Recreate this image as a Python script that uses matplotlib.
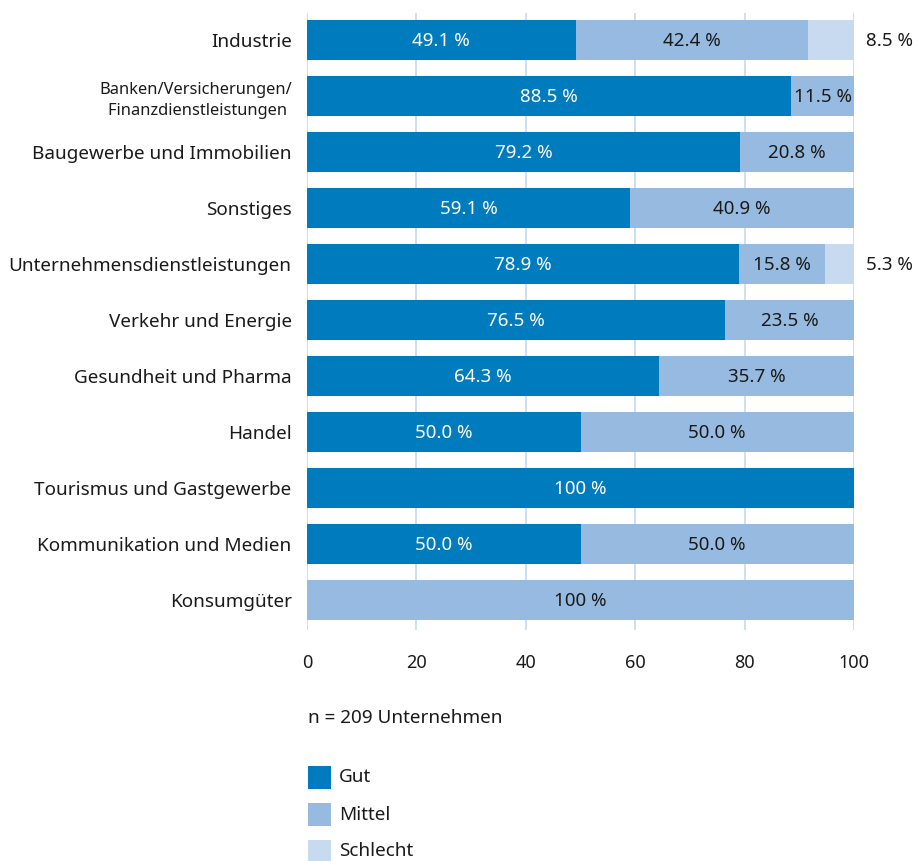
import numpy as np
import matplotlib.pyplot as plt
import matplotlib.patches as patches

plt.rcParams['font.family'] = ['Noto Sans', 'DejaVu Sans']

categories = [
    'Industrie',
    'Banken/Versicherungen/\nFinanzdienstleistungen ',
    'Baugewerbe und Immobilien',
    'Sonstiges',
    'Unternehmensdienstleistungen',
    'Verkehr und Energie',
    'Gesundheit und Pharma',
    'Handel',
    'Tourismus und Gastgewerbe',
    'Kommunikation und Medien',
    'Konsumgüter',
]
gut = [49.1, 88.5, 79.2, 59.1, 78.9, 76.5, 64.3, 50.0, 100, 50.0, 0]
mittel = [42.4, 11.5, 20.8, 40.9, 15.8, 23.5, 35.7, 50.0, 0, 50.0, 100]
schlecht = [8.5, 0, 0, 0, 5.3, 0, 0, 0, 0, 0, 0]

series_names = ['Gut', 'Mittel', 'Schlecht']
colors = ['#007bbd', '#97bbe0', '#c7daf0']
grid_color = '#c6d9f0'
text_color = '#1a1a1a'


def fmt(v):
    return '100 %' if v == 100 else f'{v:.1f} %'


fig = plt.figure(figsize=(9.17, 8.61), dpi=100)
W, H = 917, 861
ax = fig.add_axes([307 / W, 1 - 630 / H, (854 - 307) / W, (630 - 13) / H])

y = np.arange(len(categories))
bar_h = 0.73
gut = np.array(gut)
mittel = np.array(mittel)
schlecht = np.array(schlecht)

ax.barh(y, gut, height=bar_h, color=colors[0], zorder=3)
ax.barh(y, mittel, left=gut, height=bar_h, color=colors[1], zorder=3)
ax.barh(y, schlecht, left=gut + mittel, height=bar_h, color=colors[2], zorder=3)

# value labels: Gut in white, Mittel in black, Schlecht outside the bar
val_fs = 13.5
for i in range(len(categories)):
    yy = y[i] + 0.02
    if gut[i] > 0:
        ax.text(gut[i] / 2, yy, fmt(gut[i]), color='white', ha='center',
                va='center', fontsize=val_fs, zorder=4)
    if mittel[i] > 0:
        ax.text(gut[i] + mittel[i] / 2, yy, fmt(mittel[i]), color=text_color,
                ha='center', va='center', fontsize=val_fs, zorder=4)
    if schlecht[i] > 0:
        ax.text(106.4, yy, fmt(schlecht[i]), color=text_color, ha='center',
                va='center', fontsize=val_fs, zorder=4, clip_on=False)

ax.set_xlim(0, 100)
ax.set_ylim(10.536, -0.482)
ax.set_xticks([0, 20, 40, 60, 80, 100])
ax.set_yticks(y)
ax.set_yticklabels(categories)
for lbl in ax.get_yticklabels():
    if '\n' in lbl.get_text():
        lbl.set_fontsize(11.8)
        lbl.set_linespacing(1.45)
    else:
        lbl.set_fontsize(13.6)
ax.tick_params(axis='x', length=0, pad=17, labelsize=13, colors=text_color)
ax.tick_params(axis='y', length=0, pad=11, colors=text_color)
ax.xaxis.grid(True, color=grid_color, linewidth=1.2, zorder=0)
for s in ax.spines.values():
    s.set_visible(False)

fig.text(308 / W, 1 - 718 / H, 'n = 209 Unternehmen', fontsize=13.6,
         va='center', ha='left', color=text_color)

# legend drawn as squares with labels below the chart
for k, (name, c) in enumerate(zip(series_names, colors)):
    top = 766 + 37 * k
    fig.patches.append(patches.Rectangle(
        (308 / W, 1 - (top + 23) / H), 23 / W, 23 / H,
        transform=fig.transFigure, facecolor=c, edgecolor='none'))
    fig.text(339 / W, 1 - (top + 11.5) / H, name, fontsize=13.6,
             va='center', ha='left', color=text_color)

fig.savefig('out.png', dpi=100)
